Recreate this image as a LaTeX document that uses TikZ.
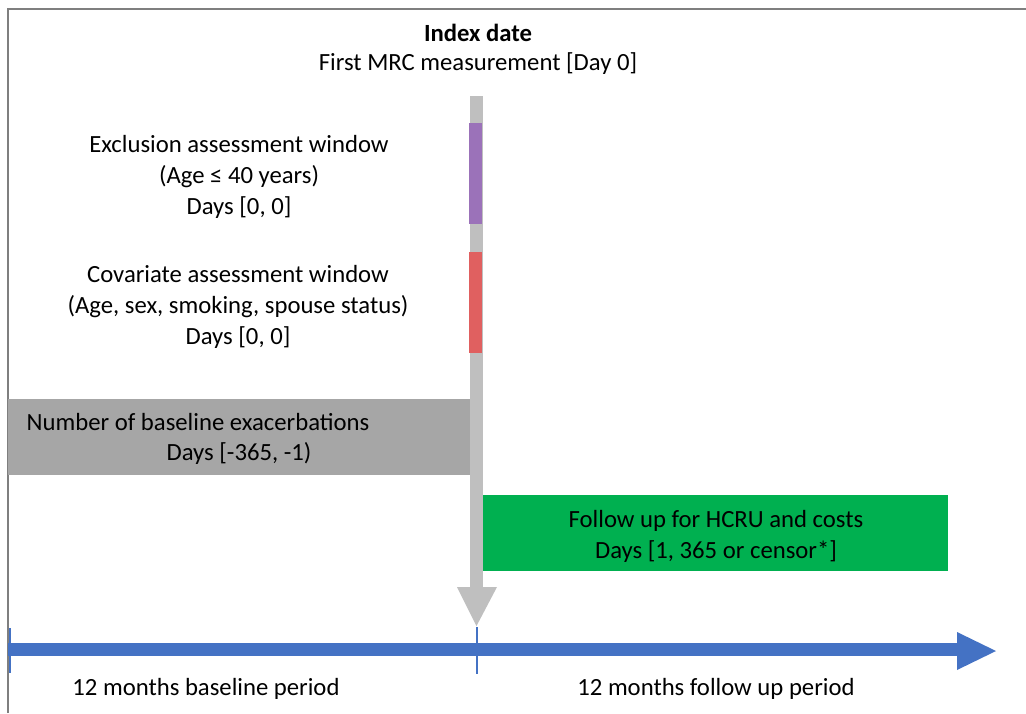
\documentclass[tikz,border=0pt]{standalone}
\usepackage{fontspec}
\setmainfont{Carlito}
\definecolor{bargray}{HTML}{BFBFBF}
\definecolor{boxgray}{HTML}{A6A6A6}
\definecolor{purp}{HTML}{9B72B9}
\definecolor{redw}{HTML}{E06060}
\definecolor{greenb}{HTML}{00B050}
\definecolor{blueax}{HTML}{4472C4}
\definecolor{frame}{HTML}{7F7F7F}
\begin{document}
\begin{tikzpicture}[x=1pt,y=-1pt,
  lbl/.style={inner sep=0pt,align=center,font=\fontsize{24.7}{31}\selectfont}]
\useasboundingbox (0,0) rectangle (1026,713);
% frame
\draw[frame,line width=2pt] (8,713) -- (8,9) -- (1026,9);
% titles
\node[lbl,font=\fontsize{24.7}{31}\selectfont\bfseries] (t1) at (478,33) {Index date};
\node[lbl] (t2) at (478,64) {First MRC measurement [Day 0]};
% vertical bar with arrow head
\fill[bargray] (470,96) rectangle (483,588);
\fill[bargray] (457,587) -- (497,587) -- (476.5,626) -- cycle;
\fill[purp] (469,123) rectangle (482,224);
\fill[redw] (469,252) rectangle (482,353);
% windows text
\node[lbl] (excl) at (239,177) {Exclusion assessment window\\(Age ≤ 40 years)\\Days [0, 0]};
\node[lbl] (cov) at (238,307) {Covariate assessment window\\(Age, sex, smoking, spouse status)\\Days [0, 0]};
% baseline box
\fill[boxgray] (8,399) rectangle (470,475);
\node[lbl] (b1) at (198,422) {Number of baseline exacerbations};
\node[lbl] (b2) at (239,453) {Days [-365, -1)};
% follow-up box
\fill[greenb] (483,495) rectangle (948,571);
\node[lbl] (g1) at (716,536) {Follow up for HCRU and costs\\Days [1, 365 or censor*]};
% time axis
\fill[blueax] (8,643) rectangle (958,656);
\fill[blueax] (957,632) -- (957,670) -- (996,651) -- cycle;
\draw[blueax,line width=1.5pt] (477,627) -- (477,674);
\draw[blueax,line width=2pt] (10,628) -- (10,673);
\node[lbl] (p1) at (206,689) {12 months baseline period};
\node[lbl] (p2) at (716,689) {12 months follow up period};
\end{tikzpicture}
\end{document}
